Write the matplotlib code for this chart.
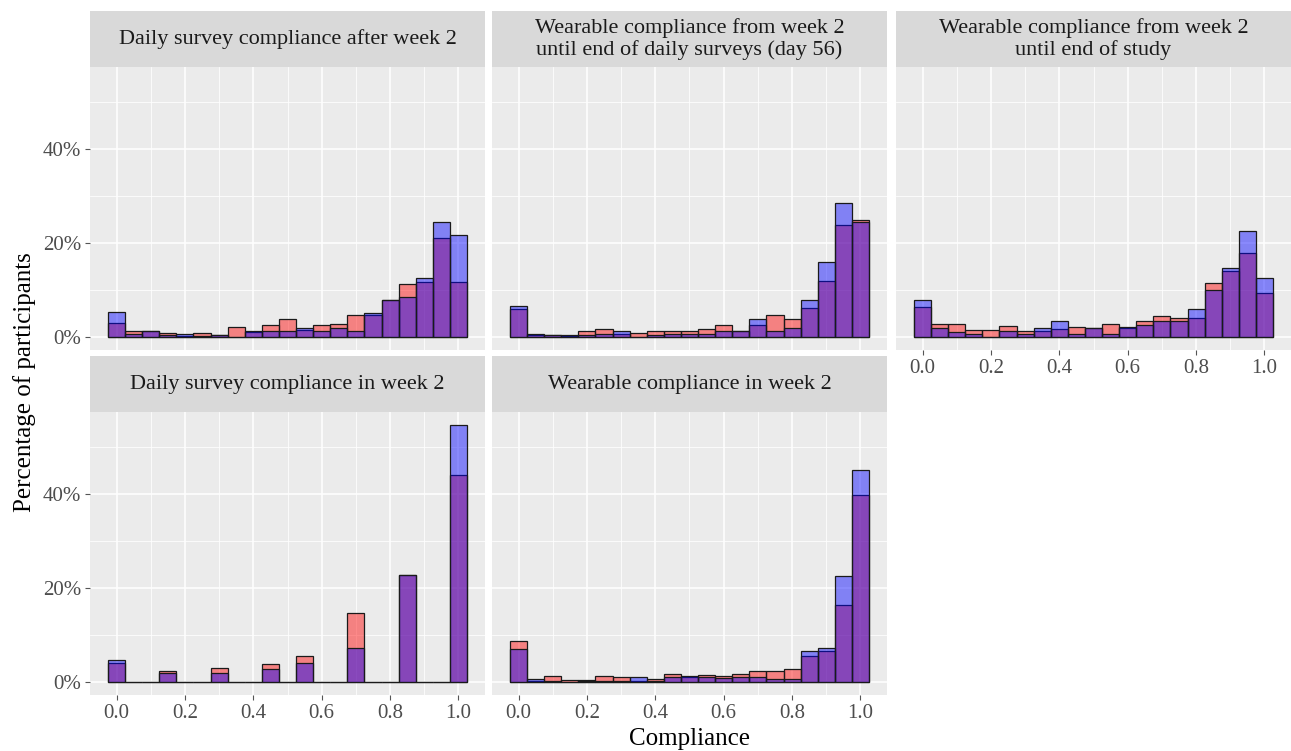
import matplotlib
matplotlib.use("Agg")
import matplotlib.pyplot as plt
from matplotlib.ticker import FixedLocator

# Colors (ggplot2-like theme_grey)
PANEL_BG = '#EBEBEB'
STRIP_BG = '#D9D9D9'
TEXT_DARK = '#1A1A1A'
TICK_GREY = '#4D4D4D'
FONT = 'Liberation Serif'

# Histogram bins (centers, width 0.05)
bins = [0.00, 0.05, 0.10, 0.15, 0.20, 0.25, 0.30, 0.35, 0.40, 0.45, 0.50,
        0.55, 0.60, 0.65, 0.70, 0.75, 0.80, 0.85, 0.90, 0.95, 1.00]

titles = [
    "Daily survey compliance after week 2",
    "Wearable compliance from week 2\nuntil end of daily surveys (day 56)",
    "Wearable compliance from week 2\nuntil end of study",
    "Daily survey compliance in week 2",
    "Wearable compliance in week 2",
]

# percent of participants per bin, red group / blue group
daily_after_red = [3.0, 1.3, 1.3, 0.9, 0.3, 0.8, 0.35, 2.2, 1.1, 2.6, 3.9,
                   1.5, 2.6, 2.9, 4.7, 4.8, 7.9, 11.3, 11.8, 21.1, 11.8]
daily_after_blue = [5.3, 0.6, 1.4, 0.35, 0.6, 0.3, 0.35, 0.0, 1.3, 1.2, 1.2,
                    1.9, 1.2, 1.9, 1.2, 5.2, 7.9, 8.6, 12.6, 24.5, 21.8]

wear_day56_red = [6.0, 0.5, 0.4, 0.2, 1.2, 1.7, 0.6, 0.85, 1.4, 1.3, 1.35,
                  1.8, 2.6, 1.3, 2.6, 4.7, 3.8, 6.2, 11.9, 23.8, 24.9]
wear_day56_blue = [6.6, 0.7, 0.4, 0.5, 0.4, 0.6, 1.2, 0.0, 0.5, 0.6, 0.6,
                   0.6, 1.3, 1.3, 3.9, 1.2, 2.0, 7.9, 16.0, 28.6, 24.6]

wear_end_red = [6.5, 2.9, 2.9, 1.5, 1.5, 2.3, 1.3, 1.3, 1.8, 2.1, 1.9,
                2.9, 2.0, 3.5, 4.4, 4.0, 4.1, 11.6, 14.0, 17.9, 9.4]
wear_end_blue = [7.9, 1.9, 1.1, 0.6, 0.0, 1.2, 0.6, 2.0, 3.5, 0.7, 1.9,
                 0.6, 2.1, 2.6, 3.4, 3.4, 6.0, 10.0, 14.7, 22.6, 12.6]

daily_wk2_red = [4.0, 0, 0, 2.4, 0, 0, 3.1, 0, 0, 3.8, 0,
                 5.5, 0, 0, 14.8, 0, 0, 22.9, 0, 0, 44.0]
daily_wk2_blue = [4.75, 0, 0, 1.9, 0, 0, 2.0, 0, 0, 2.7, 0,
                  4.0, 0, 0, 7.3, 0, 0, 22.7, 0, 0, 54.8]

wear_wk2_red = [8.8, 0.3, 1.35, 0.55, 0.45, 1.35, 1.05, 0.15, 0.7, 1.8, 1.1,
                1.6, 1.4, 1.8, 2.4, 2.4, 2.8, 5.5, 6.7, 16.5, 39.9]
wear_wk2_blue = [7.1, 0.7, 0.2, 0.0, 0.2, 0.2, 0.15, 1.1, 0.2, 1.1, 1.2,
                 1.1, 0.85, 1.1, 1.1, 0.7, 0.7, 6.7, 7.2, 22.6, 45.1]

reds = [daily_after_red, wear_day56_red, wear_end_red, daily_wk2_red, wear_wk2_red]
blues = [daily_after_blue, wear_day56_blue, wear_end_blue, daily_wk2_blue, wear_wk2_blue]

W, H = 1291, 751
fig = plt.figure(figsize=(W / 100, H / 100), dpi=100)
fig.patch.set_facecolor('white')

# panel geometry in pixels: (left, top of plot area)
lefts = [90, 492, 896]
panel_w = 395
plot_tops = [67, 412]
plot_h = 283
strip_h = 56
positions = [(0, 0), (0, 1), (0, 2), (1, 0), (1, 1)]
show_x = [False, False, True, True, True]


def px_rect(left, top, w, h):
    return [left / W, 1 - (top + h) / H, w / W, h / H]


for i, (r, c) in enumerate(positions):
    left = lefts[c]
    top = plot_tops[r]

    # facet strip
    sax = fig.add_axes(px_rect(left, top - strip_h, panel_w, strip_h))
    sax.set_facecolor(STRIP_BG)
    sax.set_xticks([])
    sax.set_yticks([])
    for s in sax.spines.values():
        s.set_visible(False)
    sax.text(0.5, 0.5, titles[i], ha='center', va='center', fontsize=16,
             color=TEXT_DARK, family=FONT, linespacing=1.2,
             transform=sax.transAxes)

    ax = fig.add_axes(px_rect(left, top, panel_w, plot_h))
    ax.set_facecolor(PANEL_BG)
    for s in ax.spines.values():
        s.set_visible(False)

    ax.bar(bins, reds[i], width=0.05, color=(1, 0, 0, 0.45),
           edgecolor='#1a1a1a', linewidth=0.9, zorder=3)
    ax.bar(bins, blues[i], width=0.05, color=(0, 0, 1, 0.45),
           edgecolor='#1a1a1a', linewidth=0.9, zorder=4)

    ax.set_xlim(-0.0775, 1.0775)
    ax.set_ylim(-2.74, 57.5)

    ax.xaxis.set_major_locator(FixedLocator([0, 0.2, 0.4, 0.6, 0.8, 1.0]))
    ax.xaxis.set_minor_locator(FixedLocator([0.1, 0.3, 0.5, 0.7, 0.9]))
    ax.yaxis.set_major_locator(FixedLocator([0, 20, 40]))
    ax.yaxis.set_minor_locator(FixedLocator([10, 30, 50]))
    ax.grid(which='major', color='white', linewidth=1.1, zorder=0)
    ax.grid(which='minor', color='white', linewidth=0.55, zorder=0)
    ax.set_axisbelow(True)
    ax.tick_params(which='minor', length=0)
    ax.tick_params(which='major', length=3.5, width=0.8, color='#555555',
                   labelsize=15, labelcolor=TICK_GREY, pad=3)

    if show_x[i]:
        ax.set_xticklabels(['0.0', '0.2', '0.4', '0.6', '0.8', '1.0'],
                           family=FONT)
    else:
        ax.tick_params(axis='x', which='major', length=0, labelbottom=False)

    if c == 0:
        ax.set_yticklabels(['0%', '20%', '40%'], family=FONT)
    else:
        ax.tick_params(axis='y', which='major', length=0, labelleft=False)

fig.text(690 / W, 1 - 739 / H, 'Compliance', ha='center', va='center',
         fontsize=18, color='black', family=FONT)
fig.text(25 / W, 1 - 382 / H, 'Percentage of participants', ha='center',
         va='center', rotation=90, fontsize=18, color='black', family=FONT)

fig.savefig('out.png', dpi=100, facecolor='white')
